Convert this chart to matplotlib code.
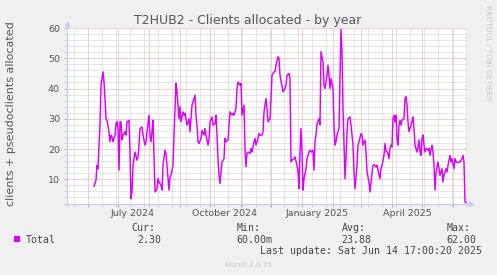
import matplotlib
matplotlib.use("Agg")
import matplotlib.pyplot as plt
import matplotlib.transforms as mtransforms
from matplotlib.patches import Rectangle
import numpy as np
import pandas as pd

# ---------------- data ----------------
title = "T2HUB2 - Clients allocated - by year"
ylabel = "clients + pseudoclients allocated"
series_name = "Total"
start_date = "2024-06-01"          # day_offset is counted from this date
day_offset = [
    6, 8, 9, 10, 11, 12, 13, 15, 16, 17, 18, 19, 21, 22, 23, 24, 25, 27, 28, 29,
    30, 31, 32, 33, 34, 35, 37, 38, 39, 41, 42, 43, 44, 45, 46, 47, 49, 50, 51, 52,
    54, 55, 57, 58, 59, 61, 62, 63, 64, 65, 66, 67, 69, 70, 71, 73, 74, 75, 77, 78,
    79, 81, 82, 83, 85, 86, 87, 88, 89, 91, 92, 93, 95, 96, 97, 99, 101, 102, 103, 104,
    106, 107, 108, 109, 110, 111, 113, 114, 116, 117, 118, 120, 121, 122, 124, 125, 127, 128, 129, 130,
    131, 132, 133, 134, 136, 137, 138, 140, 141, 142, 144, 145, 146, 148, 149, 150, 152, 153, 154, 156,
    157, 158, 159, 160, 162, 163, 164, 166, 167, 168, 170, 171, 172, 174, 175, 176, 178, 179, 180, 182,
    183, 184, 186, 187, 188, 190, 191, 192, 194, 195, 197, 198, 199, 201, 202, 203, 204, 206, 207, 209,
    210, 211, 212, 213, 214, 215, 216, 218, 219, 221, 222, 223, 225, 226, 227, 228, 229, 231, 232, 233,
    235, 236, 237, 239, 240, 241, 242, 243, 245, 246, 247, 248, 249, 251, 252, 253, 254, 255, 256, 257,
    258, 259, 260, 262, 263, 265, 266, 267, 269, 270, 271, 273, 274, 275, 277, 278, 279, 281, 282, 284,
    285, 286, 288, 289, 290, 292, 293, 294, 296, 297, 298, 300, 301, 302, 303, 304, 305, 306, 307, 308,
    309, 310, 311, 312, 313, 314, 316, 317, 318, 319, 320, 321, 322, 324, 325, 326, 327, 328, 329, 330,
    331, 332, 333, 334, 335, 336, 337, 338, 340, 341, 342, 344, 345, 346, 347, 348, 350, 351, 352, 354,
    355, 356, 358, 359, 360, 362, 363, 364, 366, 367, 368, 370, 371, 372, 374, 375, 376, 377, 378,
]
values = [
    7.7, 9.7, 14.6, 13.5, 21.3, 27.9, 41.0, 45.5, 42.2, 36.7, 30.0, 29.5, 25.7, 22.4, 24.6, 24.0, 22.4, 24.6, 28.4, 29.0,
    26.8, 13.0, 29.0, 29.0, 23.0, 24.6, 25.7, 24.6, 29.0, 29.5, 19.0, 3.6, 5.8, 14.6, 16.8, 19.0, 16.3, 17.4, 21.3, 26.8,
    27.3, 24.6, 21.3, 22.4, 25.7, 31.2, 24.6, 22.4, 25.7, 29.5, 18.0, 5.8, 6.9, 10.2, 9.1, 8.0, 6.4, 14.6, 19.6, 18.5,
    14.6, 6.4, 10.8, 11.3, 14.6, 24.6, 33.4, 41.7, 38.9, 30.0, 34.0, 29.0, 32.3, 31.2, 31.8, 27.9, 30.0, 25.7, 30.0, 34.5,
    36.7, 37.8, 31.2, 27.9, 22.4, 21.8, 23.5, 26.2, 24.6, 26.8, 24.6, 21.3, 23.0, 29.0, 30.6, 27.9, 28.4, 31.2, 24.6, 16.8,
    11.3, 8.6, 12.4, 15.7, 16.8, 23.5, 22.4, 23.0, 27.9, 32.3, 31.2, 31.8, 31.2, 33.4, 40.0, 42.2, 41.1, 41.7, 31.2, 34.5,
    20.2, 14.1, 18.5, 19.0, 18.5, 20.2, 19.0, 22.4, 23.5, 21.3, 23.5, 25.1, 24.6, 24.6, 25.7, 32.3, 36.7, 33.4, 29.0, 30.0,
    36.7, 44.4, 45.5, 45.5, 47.7, 50.5, 50.0, 44.4, 40.6, 38.9, 40.0, 41.1, 44.4, 45.0, 43.3, 15.7, 16.3, 16.8, 17.4, 14.6,
    12.4, 6.9, 19.0, 26.8, 19.0, 6.4, 10.2, 13.5, 16.8, 19.0, 19.6, 19.0, 19.6, 13.0, 22.4, 24.6, 28.4, 30.0, 28.0, 52.2,
    48.9, 41.1, 40.0, 44.4, 47.7, 44.4, 40.0, 43.3, 40.0, 27.9, 21.3, 22.4, 24.6, 26.8, 44.4, 59.5, 52.2, 33.4, 22.4, 10.2,
    16.8, 25.7, 30.0, 30.6, 27.9, 21.3, 12.4, 6.9, 14.6, 21.3, 22.4, 25.1, 24.6, 21.3, 23.0, 19.0, 12.4, 9.1, 5.8, 12.0,
    14.6, 14.9, 14.1, 14.6, 13.0, 10.2, 13.5, 14.6, 17.9, 21.8, 19.6, 18.5, 16.8, 20.2, 21.3, 20.7, 30.0, 31.2, 29.0, 31.2,
    23.5, 21.3, 27.9, 29.5, 27.9, 29.5, 30.0, 36.7, 37.3, 34.5, 29.0, 25.7, 26.8, 29.0, 30.6, 26.8, 21.3, 20.2, 19.0, 20.7,
    23.0, 19.0, 17.9, 23.5, 24.6, 21.3, 19.0, 20.2, 19.6, 20.2, 17.9, 21.3, 19.0, 14.6, 6.4, 12.4, 15.7, 13.5, 11.3, 13.5,
    9.1, 11.3, 13.5, 12.4, 14.6, 17.9, 15.7, 16.8, 13.5, 16.8, 15.7, 15.5, 15.7, 15.7, 16.8, 17.9, 15.7, 2.5, 2.3,
]
x_start = "2024-05-11"
x_end = "2025-06-15"
y_min, y_max = 2, 60
y_ticks = [10, 20, 30, 40, 50, 60]
month_labels = ["July 2024", "October 2024", "January 2025", "April 2025"]
month_label_dates = ["2024-07-16", "2024-10-16", "2025-01-16", "2025-04-16"]
stat_names = ["Cur:", "Min:", "Avg:", "Max:"]
stat_values = ["2.30", "60.00m", "23.88", "62.00"]
last_update = "Last update: Sat Jun 14 17:00:20 2025"
watermark = "RRDTOOL / TOBI OETIKER"
footer = "Munin 2.0.75"

# ---------------- style ----------------
W, H = 497, 275
BG = "#F0F0F0"
LINE = "#DD00FF"
TXT = "#555555"
MGRID = "#EC9C9C"
GRID = "#CFCFCF"
AXIS = "#C8CCF2"

fig = plt.figure(figsize=(W / 100, H / 100), dpi=100, facecolor=BG)
ax_l, ax_r, ax_t, ax_b = 67, 467, 28, 203.5
ax = fig.add_axes([ax_l / W, 1 - ax_b / H, (ax_r - ax_l) / W, (ax_b - ax_t) / H])
ax.set_facecolor("white")

dates = pd.Timestamp(start_date) + pd.to_timedelta(day_offset, unit="D")
ax.plot(dates.values, values, color=LINE, lw=1.05, zorder=3, solid_joinstyle="round")

ax.set_xlim(np.datetime64(x_start), np.datetime64(x_end))
ax.set_ylim(y_min, y_max)

# grid
month_starts = pd.date_range("2024-06-01", "2025-06-01", freq="MS")
biweekly = pd.date_range("2024-05-18", "2025-06-14", freq="14D")
ax.set_xticks(month_starts.values)
ax.set_xticks(biweekly.values, minor=True)
ax.set_xticklabels([])
ax.set_yticks(y_ticks)
ax.set_yticks(np.arange(4, 60, 2), minor=True)
ax.set_axisbelow(True)
ax.grid(True, which="minor", color=GRID, lw=0.72, ls=(0, (1, 1)), zorder=0)
ax.grid(True, which="major", color=MGRID, lw=0.72, ls=(0, (1, 1)), zorder=1)

ax.tick_params(axis="both", which="major", length=2.2, width=0.72, color=MGRID)
ax.tick_params(axis="both", which="minor", length=2.2, width=0.72, color=GRID)
ax.tick_params(axis="y", which="major", labelsize=6.8, labelcolor=TXT, pad=2.9)

for s in ax.spines.values():
    s.set_visible(False)

# axis lines with arrows
ax.plot([0, 0], [-0.015, 1.02], transform=ax.transAxes, color=AXIS, lw=0.9, clip_on=False, zorder=4)
ax.plot([-0.008, 1.006], [0, 0], transform=ax.transAxes, color=AXIS, lw=0.9, clip_on=False, zorder=4)
ax.plot([0], [1.025], marker="^", ms=3.2, color=AXIS, transform=ax.transAxes, clip_on=False, zorder=4)
ax.plot([1.01], [0], marker=">", ms=3.2, color=AXIS, transform=ax.transAxes, clip_on=False, zorder=4)

# month labels (centered mid-month)
trans = mtransforms.blended_transform_factory(ax.transData, ax.transAxes)
for lbl, d in zip(month_labels, month_label_dates):
    ax.text(np.datetime64(d), -(215.5 - ax_b) / (ax_b - ax_t), lbl, transform=trans,
            ha="center", va="baseline", fontsize=6.8, color=TXT)

# title, y label, watermark
fig.text(248 / W, 1 - 24 / H, title, ha="center", va="baseline", fontsize=9, color=TXT)
fig.text(11 / W, 1 - 113.7 / H, ylabel, ha="center", va="center", rotation=90,
         fontsize=8, color=TXT)
fig.text(488 / W, 1 - 53 / H, watermark, ha="center", va="center", rotation=270,
         fontsize=5.4, color="#C4C4C4")

# legend
mono = dict(family="DejaVu Sans Mono", fontsize=7.1, color="#444444", va="baseline")
fig.add_artist(Rectangle((14 / W, 1 - 242 / H), 6 / W, 6 / H, transform=fig.transFigure,
                         facecolor=LINE, edgecolor="none"))
fig.text(26 / W, 1 - 242.7 / H, series_name, ha="left", **mono)
stat_x = [131.7, 236.7, 341.7, 446.7]
val_x = [137.7, 236.7, 341.7, 446.7]
for sx, vx, n, v in zip(stat_x, val_x, stat_names, stat_values):
    fig.text(sx / W, 1 - 230.7 / H, n, ha="left", **mono)
    fig.text(vx / W, 1 - 242.7 / H, v, ha="left", **mono)
fig.text(482.5 / W, 1 - 254.2 / H, last_update, ha="right", **mono)
fig.text(248 / W, 1 - 266.7 / H, footer, ha="center", va="baseline", fontsize=5.1, color="#C4C4C4")

fig.savefig("out.png", dpi=100, facecolor=BG)
